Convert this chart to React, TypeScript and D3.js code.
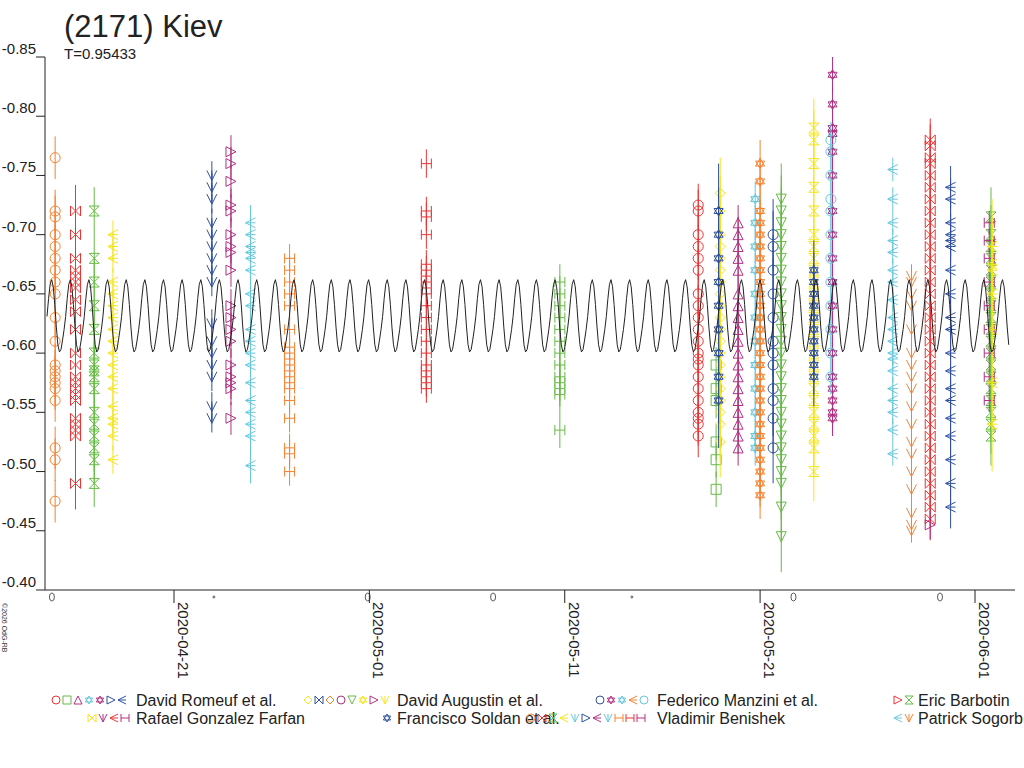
import * as d3 from "d3";

const TITLE = "(2171) Kiev";
const PERIOD = 0.95433;
const Y_TICKS = [-0.85, -0.8, -0.75, -0.7, -0.65, -0.6, -0.55, -0.5, -0.45, -0.4];
const X_TICKS = ["2020-04-21", "2020-05-01", "2020-05-11", "2020-05-21", "2020-06-01"];

// one cycle of the model lightcurve (mag), repeated every PERIOD days
const MODEL_CYCLE = [-0.631, -0.646, -0.658, -0.662, -0.656, -0.641, -0.622, -0.607, -0.601, -0.603, -0.611, -0.62];
const MODEL_START = "2020-04-14T12:00:00Z";
const MODEL_END = "2020-06-02T19:00:00Z";

type Cluster = { t: string; color: string; sym: string; err: number; mags: number[] };

const RED = "#ee3333", ORANGE = "#f58231", GREEN = "#66bb44", YELLOW = "#f5e51b";
const BLUE = "#3050a0", MAGENTA = "#b03080", CYAN = "#66c8dc";

const clusters: Cluster[] = [
  { t: "2020-04-14T22:00Z", color: ORANGE, sym: "circle", err: 0.018, mags: [-0.765, -0.72, -0.715, -0.7, -0.69, -0.68, -0.67, -0.66, -0.65, -0.63, -0.61, -0.59, -0.585, -0.58, -0.575, -0.57, -0.56, -0.52, -0.51, -0.475] },
  { t: "2020-04-15T23:00Z", color: RED, sym: "bowtie", err: 0.022, mags: [-0.72, -0.7, -0.68, -0.67, -0.665, -0.66, -0.655, -0.645, -0.635, -0.62, -0.6, -0.59, -0.58, -0.575, -0.57, -0.565, -0.56, -0.545, -0.54, -0.535, -0.53, -0.49] },
  { t: "2020-04-16T22:00Z", color: GREEN, sym: "hourglass", err: 0.02, mags: [-0.72, -0.68, -0.66, -0.64, -0.62, -0.6, -0.59, -0.585, -0.58, -0.57, -0.55, -0.54, -0.53, -0.52, -0.51, -0.49] },
  { t: "2020-04-17T21:00Z", color: YELLOW, sym: "lt", err: 0.012, mags: [-0.7, -0.69, -0.68, -0.66, -0.65, -0.64, -0.63, -0.62, -0.61, -0.6, -0.59, -0.58, -0.57, -0.555, -0.545, -0.54, -0.53, -0.51] },
  { t: "2020-04-22T22:30Z", color: BLUE, sym: "v", err: 0.012, mags: [-0.75, -0.74, -0.73, -0.71, -0.7, -0.69, -0.68, -0.67, -0.66, -0.625, -0.61, -0.6, -0.59, -0.58, -0.555, -0.545] },
  { t: "2020-04-23T22:00Z", color: MAGENTA, sym: "gt", err: 0.014, mags: [-0.77, -0.76, -0.745, -0.725, -0.72, -0.7, -0.69, -0.685, -0.67, -0.64, -0.63, -0.62, -0.61, -0.59, -0.58, -0.575, -0.57, -0.545] },
  { t: "2020-04-24T22:00Z", color: CYAN, sym: "lt", err: 0.015, mags: [-0.71, -0.7, -0.69, -0.685, -0.68, -0.67, -0.65, -0.64, -0.62, -0.61, -0.6, -0.59, -0.575, -0.56, -0.55, -0.54, -0.53, -0.505] },
  { t: "2020-04-26T22:00Z", color: ORANGE, sym: "bracket", err: 0.012, mags: [-0.68, -0.67, -0.66, -0.65, -0.64, -0.62, -0.605, -0.6, -0.595, -0.59, -0.585, -0.58, -0.575, -0.57, -0.56, -0.545, -0.52, -0.515, -0.5] },
  { t: "2020-05-03T22:00Z", color: RED, sym: "bracket", err: 0.012, mags: [-0.76, -0.72, -0.715, -0.7, -0.675, -0.67, -0.665, -0.66, -0.655, -0.65, -0.64, -0.63, -0.62, -0.61, -0.6, -0.59, -0.585, -0.58, -0.575, -0.57] },
  { t: "2020-05-10T18:00Z", color: GREEN, sym: "bracket", err: 0.015, mags: [-0.66, -0.65, -0.64, -0.63, -0.62, -0.61, -0.6, -0.59, -0.58, -0.575, -0.57, -0.565, -0.535] },
  { t: "2020-05-17T20:00Z", color: RED, sym: "circle", err: 0.018, mags: [-0.725, -0.72, -0.7, -0.69, -0.68, -0.67, -0.65, -0.64, -0.63, -0.62, -0.61, -0.6, -0.595, -0.59, -0.58, -0.57, -0.56, -0.55, -0.545, -0.54, -0.53] },
  { t: "2020-05-18T18:00Z", color: GREEN, sym: "square", err: 0.015, mags: [-0.59, -0.57, -0.56, -0.525, -0.51, -0.485] },
  { t: "2020-05-18T23:00Z", color: YELLOW, sym: "diamond", err: 0.03, mags: [-0.735, -0.72, -0.7, -0.69, -0.68, -0.67, -0.66, -0.65, -0.64, -0.63, -0.62, -0.61, -0.6, -0.59, -0.58, -0.57, -0.56, -0.55, -0.54, -0.525] },
  { t: "2020-05-18T21:00Z", color: BLUE, sym: "star", err: 0.04, mags: [-0.72, -0.7, -0.68, -0.66, -0.64, -0.62, -0.6, -0.58, -0.56] },
  { t: "2020-05-19T21:00Z", color: MAGENTA, sym: "triangle", err: 0.015, mags: [-0.71, -0.7, -0.69, -0.68, -0.67, -0.65, -0.64, -0.63, -0.62, -0.61, -0.6, -0.59, -0.58, -0.57, -0.56, -0.55, -0.54, -0.53, -0.52] },
  { t: "2020-05-20T18:00Z", color: CYAN, sym: "star", err: 0.015, mags: [-0.73, -0.71, -0.69, -0.67, -0.65, -0.63, -0.61, -0.59, -0.57, -0.55, -0.53, -0.52] },
  { t: "2020-05-21T00:00Z", color: ORANGE, sym: "star", err: 0.02, mags: [-0.76, -0.745, -0.72, -0.71, -0.7, -0.69, -0.68, -0.67, -0.66, -0.65, -0.64, -0.63, -0.62, -0.61, -0.6, -0.59, -0.58, -0.57, -0.56, -0.55, -0.54, -0.53, -0.52, -0.51, -0.5, -0.49, -0.48] },
  { t: "2020-05-21T16:00Z", color: BLUE, sym: "circle", err: 0.03, mags: [-0.7, -0.69, -0.67, -0.65, -0.63, -0.61, -0.6, -0.59, -0.57, -0.56, -0.545, -0.52] },
  { t: "2020-05-22T02:00Z", color: GREEN, sym: "invtri", err: 0.03, mags: [-0.73, -0.72, -0.71, -0.7, -0.69, -0.68, -0.67, -0.66, -0.65, -0.64, -0.63, -0.62, -0.61, -0.6, -0.59, -0.58, -0.57, -0.56, -0.55, -0.54, -0.53, -0.52, -0.51, -0.5, -0.49, -0.47, -0.445] },
  { t: "2020-05-23T18:00Z", color: YELLOW, sym: "hourglass", err: 0.025, mags: [-0.79, -0.78, -0.76, -0.74, -0.72, -0.7, -0.69, -0.68, -0.67, -0.66, -0.65, -0.64, -0.63, -0.62, -0.61, -0.6, -0.59, -0.58, -0.57, -0.56, -0.55, -0.54, -0.53, -0.52, -0.5] },
  { t: "2020-05-23T18:00Z", color: BLUE, sym: "star", err: 0.025, mags: [-0.67, -0.66, -0.65, -0.64, -0.63, -0.62, -0.61, -0.6, -0.59, -0.58] },
  { t: "2020-05-24T17:00Z", color: MAGENTA, sym: "star", err: 0.015, mags: [-0.835, -0.81, -0.79, -0.785, -0.77, -0.75, -0.72, -0.7, -0.68, -0.66, -0.64, -0.62, -0.6, -0.58, -0.57, -0.56, -0.55, -0.545] },
  { t: "2020-05-24T15:00Z", color: CYAN, sym: "circle", err: 0.015, mags: [-0.78, -0.77, -0.75, -0.73, -0.72, -0.7, -0.68, -0.66, -0.64, -0.62, -0.6, -0.58] },
  { t: "2020-05-27T19:00Z", color: CYAN, sym: "lt", err: 0.01, mags: [-0.755, -0.73, -0.71, -0.695, -0.685, -0.67, -0.66, -0.645, -0.63, -0.62, -0.61, -0.6, -0.595, -0.585, -0.57, -0.56, -0.55, -0.535, -0.515] },
  { t: "2020-05-28T18:00Z", color: ORANGE, sym: "v", err: 0.01, mags: [-0.665, -0.66, -0.65, -0.64, -0.62, -0.6, -0.59, -0.58, -0.57, -0.555, -0.54, -0.525, -0.515, -0.5, -0.485, -0.465, -0.455, -0.45] },
  { t: "2020-05-29T17:00Z", color: RED, sym: "bowtie", err: 0.018, mags: [-0.78, -0.775, -0.765, -0.76, -0.75, -0.74, -0.73, -0.72, -0.71, -0.7, -0.69, -0.68, -0.67, -0.66, -0.65, -0.64, -0.63, -0.62, -0.61, -0.6, -0.59, -0.58, -0.57, -0.56, -0.55, -0.54, -0.53, -0.52, -0.51, -0.5, -0.49, -0.48, -0.47, -0.46] },
  { t: "2020-05-29T17:00Z", color: MAGENTA, sym: "gt", err: 0.012, mags: [-0.455] },
  { t: "2020-05-30T18:00Z", color: BLUE, sym: "lt", err: 0.018, mags: [-0.74, -0.73, -0.71, -0.7, -0.695, -0.69, -0.67, -0.65, -0.63, -0.62, -0.6, -0.585, -0.57, -0.56, -0.545, -0.53, -0.51, -0.49, -0.47] },
  { t: "2020-06-01T19:40Z", color: GREEN, sym: "hourglass", err: 0.025, mags: [-0.715, -0.7, -0.69, -0.68, -0.67, -0.66, -0.65, -0.64, -0.63, -0.62, -0.61, -0.6, -0.59, -0.58, -0.57, -0.56, -0.55, -0.54, -0.53] },
  { t: "2020-06-01T17:30Z", color: MAGENTA, sym: "bracket", err: 0.01, mags: [-0.71, -0.695, -0.68, -0.66, -0.64, -0.62, -0.6, -0.58, -0.56] },
  { t: "2020-06-01T21:00Z", color: YELLOW, sym: "lt", err: 0.04, mags: [-0.69, -0.675, -0.67, -0.65, -0.62, -0.575, -0.54] },
];

const PHASE_MARKS = ["2020-04-14T18:00Z", "2020-04-23T01:00Z", "2020-04-30T22:00Z", "2020-05-07T08:00Z", "2020-05-14T10:30Z", "2020-05-22T17:00Z", "2020-05-30T05:00Z"];

const legendRows: { x: number; y: number; syms: [string, string][]; label: string; tx: number }[] = [
  { x: 56, y: 706, tx: 136, label: "David Romeuf et al.", syms: [["circle", RED], ["square", GREEN], ["triangle", MAGENTA], ["star", CYAN], ["star", MAGENTA], ["gt", BLUE], ["lt", BLUE]] },
  { x: 308, y: 706, tx: 397, label: "David Augustin et al.", syms: [["diamond", YELLOW], ["bowtie", BLUE], ["diamond", ORANGE], ["circle", MAGENTA], ["invtri", GREEN], ["star", YELLOW], ["gt", MAGENTA], ["v", YELLOW]] },
  { x: 600, y: 706, tx: 657, label: "Federico Manzini et al.", syms: [["circle", BLUE], ["star", MAGENTA], ["star", CYAN], ["lt", ORANGE], ["circle", CYAN]] },
  { x: 898, y: 706, tx: 918, label: "Eric Barbotin", syms: [["gt", RED], ["hourglass", GREEN]] },
  { x: 92, y: 724, tx: 136, label: "Rafael Gonzalez Farfan", syms: [["bowtie", YELLOW], ["v", MAGENTA], ["lt", RED], ["bracket", MAGENTA]] },
  { x: 387, y: 724, tx: 397, label: "Francisco Soldan et al.", syms: [["star", BLUE]] },
  { x: 531, y: 724, tx: 657, label: "Vladimir Benishek", syms: [["circle", ORANGE], ["bowtie", RED], ["hourglass", GREEN], ["lt", YELLOW], ["v", CYAN], ["gt", BLUE], ["lt", MAGENTA], ["v", CYAN], ["bracket", ORANGE], ["bracket", RED], ["bracket", MAGENTA]] },
  { x: 898, y: 724, tx: 918, label: "Patrick Sogorb", syms: [["lt", CYAN], ["v", ORANGE]] },
];

function symPath(s: string, r: number): string {
  switch (s) {
    case "circle": return `M${r},0A${r},${r} 0 1,1 ${-r},0A${r},${r} 0 1,1 ${r},0`;
    case "square": return `M${-r},${-r}H${r}V${r}H${-r}Z`;
    case "triangle": return `M0,${-r}L${r},${r}H${-r}Z`;
    case "invtri": return `M0,${r}L${r},${-r}H${-r}Z`;
    case "diamond": return `M0,${-r}L${r},0L0,${r}L${-r},0Z`;
    case "star": return `M0,${-r}L${r * 0.9},${r * 0.5}H${-r * 0.9}ZM0,${r}L${r * 0.9},${-r * 0.5}H${-r * 0.9}Z`;
    case "bowtie": return `M${-r},${-r}L${r},${r}V${-r}L${-r},${r}Z`;
    case "hourglass": return `M${-r},${-r}H${r}L${-r},${r}H${r}Z`;
    case "lt": return `M${r},${-r}L${-r},0L${r},${r}M${-r},0H${r}`;
    case "gt": return `M${-r},${-r}L${r},0L${-r},${r}Z`;
    case "v": return `M${-r},${-r}L0,${r}L${r},${-r}M0,${r}V${-r}`;
    case "bracket": return `M${-r},${-r}V${r}M${r},${-r}V${r}M${-r},0H${r}`;
    default: return "";
  }
}

export default function App() {
  const W = 1024, H = 768;
  const x = d3.scaleUtc().domain([new Date("2020-04-21T00:00:00Z"), new Date("2020-06-01T00:00:00Z")]).range([174, 975]);
  const y = d3.scaleLinear().domain([-0.85, -0.4]).range([57, 590]);

  const t0 = +new Date(MODEL_START), t1 = +new Date(MODEL_END);
  const pts: [number, number][] = [];
  const n = MODEL_CYCLE.length;
  const pMs = PERIOD * 86400000;
  for (let k = 0; t0 + k * pMs < t1; k++) {
    MODEL_CYCLE.forEach((m, i) => {
      const t = t0 + (k + i / n) * pMs;
      if (t <= t1) pts.push([x(new Date(t)), y(m)]);
    });
  }
  const line = d3.line();

  return (
    <svg width={W} height={H} style={{ position: "absolute", left: 0, top: 0, fontFamily: "Liberation Sans, Arial, sans-serif" }}>
      <rect width={W} height={H} fill="#fff" />
      <text x={64} y={37} fontSize={31} fill="#222">{TITLE}</text>
      <text x={64} y={59} fontSize={15} fill="#222">T={PERIOD}</text>

      {/* y axis */}
      <line x1={45} x2={45} y1={57} y2={590} stroke="#222" />
      {Y_TICKS.map((v) => (
        <g key={v}>
          <line x1={36} x2={45} y1={y(v)} y2={y(v)} stroke="#222" />
          <text x={36} y={y(v) - 3} fontSize={15} textAnchor="end" fill="#222">{v.toFixed(2)}</text>
        </g>
      ))}
      {/* x axis */}
      <line x1={45} x2={1015} y1={590} y2={590} stroke="#222" />
      {X_TICKS.map((d) => {
        const px = x(new Date(d + "T00:00:00Z"));
        return (
          <g key={d}>
            <line x1={px} x2={px} y1={590} y2={603} stroke="#222" />
            <text transform={`translate(${px + 4},602) rotate(90)`} fontSize={15} fill="#222">{d}</text>
          </g>
        );
      })}
      {PHASE_MARKS.map((d, i) => (
        <ellipse key={i} cx={x(new Date(d))} cy={597} rx={i % 3 === 1 ? 1 : 2.5} ry={i % 3 === 1 ? 1 : 4} fill="none" stroke="#333" strokeWidth={0.8} />
      ))}
      <text transform="translate(2,603) rotate(90)" fontSize={7} fill="#333">©2026 OdG-RB</text>

      {/* data */}
      {clusters.map((c, ci) => {
        const cx = x(new Date(c.t));
        return (
          <g key={ci} stroke={c.color} fill="none" strokeWidth={1}>
            {c.mags.map((m, i) => (
              <g key={i}>
                <line x1={cx} x2={cx} y1={y(m - c.err)} y2={y(m + c.err)} />
                <path d={symPath(c.sym, 5)} transform={`translate(${cx},${y(m)})`} />
              </g>
            ))}
          </g>
        );
      })}

      <path d={line(pts) ?? ""} fill="none" stroke="#222" strokeWidth={1} />

      {/* legend */}
      {legendRows.map((r, ri) => (
        <g key={ri}>
          {r.syms.map(([s, col], i) => (
            <path key={i} d={symPath(s, 4)} transform={`translate(${r.x + i * 11},${r.y - 6})`} fill="none" stroke={col} />
          ))}
          <text x={r.tx} y={r.y} fontSize={16} fill="#222">{r.label}</text>
        </g>
      ))}
    </svg>
  );
}
